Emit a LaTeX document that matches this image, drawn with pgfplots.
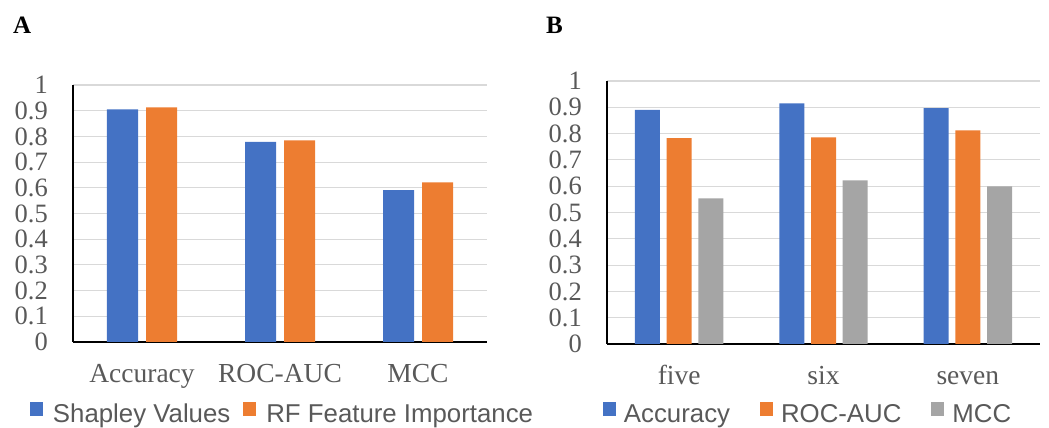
\documentclass[border=0pt]{standalone}
\usepackage{fontspec}
\setmainfont{Liberation Serif}
\newfontfamily\legfont{Liberation Sans}
\usepackage{pgfplots}
\pgfplotsset{compat=1.18}
\definecolor{cblue}{HTML}{4472C4}
\definecolor{corange}{HTML}{ED7D31}
\definecolor{cgray}{HTML}{A5A5A5}
\definecolor{gridc}{HTML}{D9D9D9}
\definecolor{txt}{HTML}{595959}
\pgfplotsset{
  common/.style={
    scale only axis,
    anchor=south west,
    ymin=0, ymax=1,
    xmin=-0.5, xmax=2.5,
    xtick={0,1,2},
    ytick={0,0.1,0.2,0.3,0.4,0.5,0.6,0.7,0.8,0.9,1},
    yticklabels={0,0.1,0.2,0.3,0.4,0.5,0.6,0.7,0.8,0.9,1},
    axis lines=left,
    axis line style={-, black, line width=1.2pt},
    major tick length=0pt,
    ymajorgrids,
    grid style={gridc, line width=1.1pt},
    yticklabel style={font=\fontsize{26.5}{30}\selectfont, text=txt, anchor=east, inner sep=0pt, xshift=-25pt},
    xticklabel style={font=\fontsize{27.5}{32}\selectfont, text=txt, anchor=base, inner sep=0pt, yshift=-41pt},
    legend columns=-1,
    legend image code/.code={\fill[##1] (0pt,0pt) rectangle (13pt,14pt);},
    legend style={draw=none, fill=none, inner sep=0pt, outer sep=0pt, anchor=west,
      font=\legfont\fontsize{25.8}{30}\selectfont, text=txt,
      nodes={inner sep=0pt, text height=18pt, text depth=5pt}},
  }
}
\begin{document}
\begin{tikzpicture}
\useasboundingbox (0pt,0pt) rectangle (1049pt,428pt);
\node[anchor=base west, inner sep=0pt, font=\bfseries\fontsize{25}{28}\selectfont] at (13pt,394pt) {A};
\node[anchor=base west, inner sep=0pt, font=\bfseries\fontsize{25}{28}\selectfont] at (546pt,394pt) {B};
\begin{axis}[common,
  at={(73pt,86pt)}, width=414pt, height=257pt,
  xticklabels={Accuracy,ROC-AUC,MCC},
  legend style={at={(-0.1039,-0.282)},
    /tikz/every odd column/.append style={column sep=10pt},
    /tikz/every even column/.append style={column sep=13pt}},
]
\addplot[ybar, bar width=31pt, bar shift=-19.5pt, fill=cblue, draw=none] coordinates {(0,0.905) (1,0.779) (2,0.591)};
\addlegendentry{Shapley Values}
\addplot[ybar, bar width=31pt, bar shift=19.5pt, fill=corange, draw=none] coordinates {(0,0.913) (1,0.785) (2,0.621)};
\addlegendentry{RF Feature Importance}
\end{axis}
\begin{axis}[common,
  at={(607pt,84pt)}, width=433pt, height=263pt,
  xticklabels={five,six,seven},
  legend style={at={(-0.0093,-0.268)},
    /tikz/every odd column/.append style={column sep=8pt},
    /tikz/every even column/.append style={column sep=30pt}},
]
\addplot[ybar, bar width=25pt, bar shift=-31.7pt, fill=cblue, draw=none] coordinates {(0,0.890) (1,0.915) (2,0.897)};
\addlegendentry{Accuracy}
\addplot[ybar, bar width=25pt, bar shift=0pt, fill=corange, draw=none] coordinates {(0,0.783) (1,0.786) (2,0.812)};
\addlegendentry{ROC-AUC}
\addplot[ybar, bar width=25pt, bar shift=31.7pt, fill=cgray, draw=none] coordinates {(0,0.554) (1,0.622) (2,0.599)};
\addlegendentry{MCC}
\end{axis}
\end{tikzpicture}
\end{document}
